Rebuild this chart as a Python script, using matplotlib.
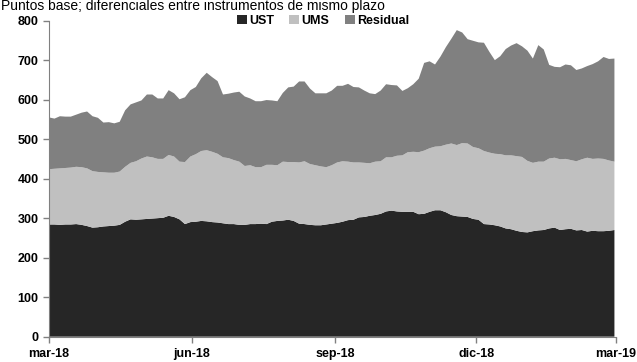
import matplotlib.pyplot as plt
from matplotlib.patches import Patch
import pandas as pd

plt.rcParams["font.family"] = ["Liberation Sans", "DejaVu Sans"]

# twice-weekly readings, puntos base
dates = pd.date_range("2018-03-01", periods=105, freq="84h")
ust = [284, 284, 283, 284, 284, 285, 283, 280, 276, 277, 279, 280, 281, 283,
       291, 297, 296, 297, 298, 299, 300, 301, 306, 303, 297, 285, 290, 291,
       293, 292, 290, 289, 287, 285, 285, 283, 283, 285, 285, 286, 285, 291,
       293, 294, 296, 293, 286, 285, 283, 282, 282, 284, 286, 288, 291, 295,
       296, 302, 303, 306, 308, 311, 317, 319, 317, 316, 316, 316, 310, 311,
       316, 320, 320, 315, 308, 305, 304, 303, 298, 296, 285, 284, 282, 279,
       274, 272, 268, 265, 264, 267, 269, 270, 274, 276, 270, 272, 273, 269,
       270, 266, 268, 267, 267, 268, 270]
ums = [140, 141, 143, 143, 144, 145, 146, 146, 143, 140, 137, 135, 134, 135,
       139, 143, 148, 154, 158, 155, 150, 149, 154, 153, 146, 157, 166, 171,
       177, 180, 178, 174, 167, 167, 162, 160, 149, 149, 144, 143, 150, 144,
       141, 149, 146, 149, 155, 159, 154, 152, 149, 145, 148, 153, 153, 148,
       145, 139, 137, 133, 135, 133, 137, 135, 141, 143, 151, 152, 157, 160,
       161, 161, 162, 171, 181, 180, 186, 186, 182, 181, 185, 182, 181, 183,
       185, 187, 189, 190, 181, 173, 174, 173, 177, 177, 179, 178, 174, 175,
       179, 187, 182, 184, 183, 178, 173]
residual = [131, 127, 132, 130, 129, 132, 138, 144, 139, 137, 126, 128, 125, 126,
            143, 148, 149, 147, 157, 159, 153, 153, 164, 160, 158, 164, 168, 170,
            184, 196, 189, 184, 159, 163, 171, 177, 176, 169, 167, 167, 164, 163,
            162, 174, 189, 191, 205, 202, 191, 182, 185, 187, 189, 194, 191, 197,
            191, 190, 183, 177, 171, 179, 185, 183, 178, 163, 162, 171, 186, 222,
            220, 208, 227, 247, 265, 291, 280, 264, 269, 268, 274, 255, 237, 248,
            269, 278, 286, 280, 279, 264, 295, 284, 237, 230, 233, 239, 240, 231,
            230, 232, 240, 246, 258, 257, 261]

labels = ["UST", "UMS", "Residual"]
colors = ["#262626", "#c0c0c0", "#808080"]

fig = plt.figure(figsize=(6.37, 3.62), dpi=100)
ax = fig.add_axes([0.077, 0.07, 0.89, 0.873])

ax.stackplot(dates, ust, ums, residual, colors=colors, linewidth=0)

ax.set_ylim(0, 800)
ax.set_yticks(range(0, 801, 100))
ax.set_xlim(pd.Timestamp("2018-03-01"), pd.Timestamp("2019-03-01"))
ticks = pd.to_datetime(["2018-03-01", "2018-06-01", "2018-09-01",
                        "2018-12-01", "2019-03-01"])
ax.set_xticks(ticks)
ax.set_xticklabels(["mar-18", "jun-18", "sep-18", "dic-18", "mar-19"])

for s in ["top", "right"]:
    ax.spines[s].set_visible(False)
for s in ["left", "bottom"]:
    ax.spines[s].set_color("#808080")
ax.tick_params(colors="#808080", labelcolor="black", length=4, width=1,
               labelsize=9)
ax.tick_params(axis="x", pad=4)
for lbl in ax.get_xticklabels() + ax.get_yticklabels():
    lbl.set_fontweight("bold")

handles = [Patch(facecolor=c, edgecolor="none") for c in colors]
fig.legend(handles, labels, loc="center", bbox_to_anchor=(0.507, 0.942),
           ncol=3, frameon=False, handlelength=0.8, handleheight=0.8,
           handletextpad=0.2, columnspacing=1.2,
           prop={"weight": "bold", "size": 9})

fig.text(0.002, 0.972, "Puntos base; diferenciales entre instrumentos de mismo plazo",
         fontsize=10, ha="left", va="baseline")

fig.savefig("out.png", dpi=100)
